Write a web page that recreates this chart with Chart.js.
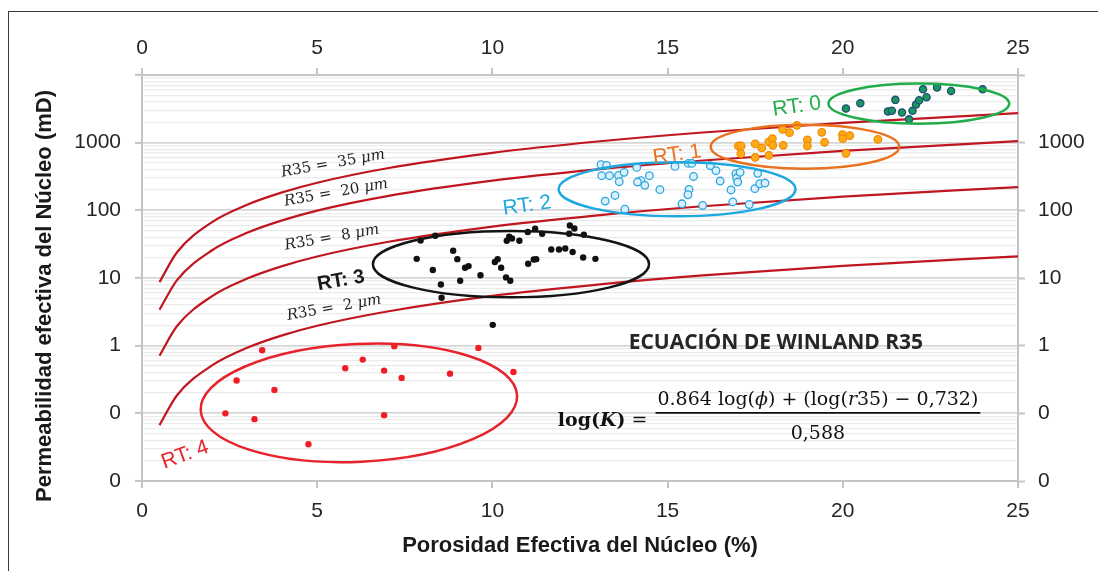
<!DOCTYPE html>
<html>
<head>
<meta charset="utf-8">
<script src="https://cdn.jsdelivr.net/npm/chart.js@4"></script>
<style>
  html, body { margin: 0; padding: 0; background: #fff; overflow: hidden; }
  #wrap { position: relative; width: 1098px; height: 571px; }
  #frame { position: absolute; left: 8px; top: 11px; width: 1200px; height: 700px; border: 1.5px solid #3a3a3a; pointer-events: none; }
</style>
</head>
<body>
<div id="wrap">
  <canvas id="chart"></canvas>
  <div id="frame"></div>
</div>
<script>
// Rock types: effective porosity (%) vs core permeability (mD)
const rt0Phi = [20.09, 20.50, 21.50, 21.29, 21.40, 21.69, 21.89, 21.99, 22.09, 22.18, 22.39, 22.29, 22.69, 23.09, 23.99];
const rt0K = [3190, 3810, 4290, 2900, 2970, 2780, 2210, 2970, 3650, 4230, 4680, 6140, 6520, 5820, 6140];

const rt1Phi = [17.02, 17.10, 17.09, 17.50, 17.69, 17.50, 17.89, 17.99, 18.00, 17.89, 18.30, 18.28, 18.48, 18.69, 18.99, 18.99, 19.40, 19.48, 19.99, 20.00, 20.20, 20.09, 21.00];
const rt1K = [893, 893, 687, 957, 835, 606, 1024, 1146, 912, 649, 912, 1574, 1406, 1803, 1096, 893, 1420, 1010, 1313, 1146, 1270, 695, 1119];

const rt2Phi = [13.10, 13.26, 13.12, 13.34, 13.60, 13.76, 13.62, 14.12, 14.24, 14.14, 14.35, 14.48, 13.50, 13.22, 13.78, 14.78, 15.21, 15.59, 15.69, 15.74, 15.61, 15.58, 15.41, 16.00, 16.22, 16.38, 16.50, 16.81, 16.86, 16.95, 16.97, 17.07, 17.00, 17.33, 17.49, 17.57, 17.63, 17.78];
const rt2K = [473, 461, 325, 325, 328, 364, 265, 431, 274, 262, 234, 325, 166, 137, 104, 202, 446, 494, 494, 317, 204, 170, 125, 118, 457, 385, 271, 200, 133, 348, 300, 364, 262, 122, 209, 352, 247, 253];

const rt3Phi = [7.84, 7.95, 8.37, 8.30, 8.53, 8.55, 8.88, 9.00, 9.08, 9.22, 9.32, 9.66, 10.01, 10.07, 10.15, 10.25, 10.39, 10.51, 10.41, 10.48, 10.56, 10.77, 11.02, 11.18, 11.25, 11.01, 11.22, 11.42, 11.68, 11.90, 12.08, 12.29, 12.59, 12.94, 12.19, 12.21, 12.34, 12.61];
const rt3K = [19.2, 35.9, 42.1, 13.1, 8.0, 5.1, 25.3, 19.0, 9.1, 14.2, 15.0, 11.0, 2.03, 17.2, 19.0, 14.2, 10.2, 9.1, 35.5, 40.7, 38.4, 35.5, 16.2, 18.8, 19.0, 47.8, 53.4, 45.1, 26.4, 26.4, 27.3, 24.2, 20.1, 19.2, 45.1, 59.8, 54.0, 43.6];

const rt4Phi = [2.38, 2.70, 3.21, 3.43, 3.78, 4.75, 5.80, 6.30, 6.91, 6.91, 7.20, 7.41, 8.79, 9.60, 10.60];
const rt4K = [0.100, 0.305, 0.082, 0.857, 0.222, 0.035, 0.464, 0.622, 0.428, 0.094, 0.984, 0.334, 0.386, 0.927, 0.409];

// Winland R35 iso-pore-throat curves
const curvePhi = [0.5, 1, 2, 3, 4, 5, 7, 10, 13, 16, 20, 25];
const k35 = [8.7, 24, 67, 121, 184, 256, 419, 708, 1040, 1412, 1962, 2725];
const k20 = [3.4, 9.3, 25.7, 46.6, 71, 99, 162, 274, 402, 545, 757, 1052];
const k8 = [0.71, 1.95, 5.4, 9.8, 15, 20.8, 34, 57.6, 84.5, 115, 159, 221];
const k2 = [0.067, 0.185, 0.51, 0.93, 1.42, 1.97, 3.2, 5.45, 8.0, 10.9, 15.1, 20.9];

const xTicks = [0, 5, 10, 15, 20, 25];
const yDecades = [0.01, 0.1, 1, 10, 100, 1000, 10000];

function pts(xs, ys) {
  return xs.map((v, i) => ({ x: v, y: ys[i] }));
}

// ellipses around each rock type (centre in data units, radii in % and decades)
const zones = [
  { phi: 22.17, k: 3776, dPhi: 2.58, dDec: 0.296, rot: 0, color: "#22ad4c" },
  { phi: 18.92, k: 873, dPhi: 2.69, dDec: 0.325, rot: 0, color: "#e8721f" },
  { phi: 15.27, k: 205, dPhi: 3.38, dDec: 0.40, rot: 0, color: "#1ea8e0" },
  { phi: 10.53, k: 16, dPhi: 3.94, dDec: 0.49, rot: 0, color: "#141414" },
  { phi: 6.19, k: 0.143, dPhi: 4.52, dDec: 0.87, rot: -2.7, color: "#e8222b" },
];

const SANS = '"Liberation Sans", Arial, sans-serif';
const SERIF = '"DejaVu Serif", serif';

const notes = [
  { runs: [["RT: 0", "21px " + SANS]], phi: 18.69, k: 3412, rot: -8, color: "#22ad4c" },
  { runs: [["RT: 1", "21px " + SANS]], phi: 15.27, k: 664, rot: -8, color: "#e8721f" },
  { runs: [["RT: 2", "21px " + SANS]], phi: 10.99, k: 117, rot: -8, color: "#1ea8e0" },
  { runs: [["RT: 3", "bold 20px " + SANS]], phi: 5.68, k: 9.1, rot: -10, color: "#1a1a1a" },
  { runs: [["RT: 4", "21px " + SANS]], phi: 1.23, k: 0.0243, rot: -20, color: "#e8222b" },
  { runs: [["R", "italic 15px " + SERIF], ["35 =  35 ", "15px " + SERIF], ["μm", "italic 15px " + SERIF]], phi: 5.45, k: 489, rot: -10, color: "#222" },
  { runs: [["R", "italic 15px " + SERIF], ["35 =  20 ", "15px " + SERIF], ["μm", "italic 15px " + SERIF]], phi: 5.54, k: 182, rot: -10, color: "#222" },
  { runs: [["R", "italic 15px " + SERIF], ["35 =  8 ", "15px " + SERIF], ["μm", "italic 15px " + SERIF]], phi: 5.42, k: 39.4, rot: -10, color: "#222" },
  { runs: [["R", "italic 15px " + SERIF], ["35 =  2 ", "15px " + SERIF], ["μm", "italic 15px " + SERIF]], phi: 5.48, k: 3.62, rot: -10, color: "#222" },
  { runs: [["ECUACIÓN DE WINLAND R35", 'bold 21px "Open Sans", ' + SANS]], phi: 18.09, k: 1.10, rot: 0, color: "#262626" },
];

function drawRuns(ctx, runs, px, py, rot, color, align) {
  let w = 0;
  runs.forEach(r => { ctx.font = r[1]; w += ctx.measureText(r[0]).width; });
  ctx.save();
  ctx.translate(px, py);
  ctx.rotate(rot * Math.PI / 180);
  ctx.fillStyle = color;
  ctx.textBaseline = "middle";
  ctx.textAlign = "left";
  let cx = align === "right" ? -w : (align === "left" ? 0 : -w / 2);
  runs.forEach(r => {
    ctx.font = r[1];
    ctx.fillText(r[0], cx, 0);
    cx += ctx.measureText(r[0]).width;
  });
  ctx.restore();
  return w;
}

const annot = {
  id: "annot",
  afterDatasetsDraw(chart) {
    const ctx = chart.ctx;
    const x = chart.scales.x, y = chart.scales.y;
    ctx.save();
    zones.forEach(z => {
      const cx = x.getPixelForValue(z.phi), cy = y.getPixelForValue(z.k);
      const rx = x.getPixelForValue(z.phi + z.dPhi) - cx;
      const ry = cy - y.getPixelForValue(z.k * Math.pow(10, z.dDec));
      ctx.beginPath();
      ctx.ellipse(cx, cy, rx, ry, z.rot * Math.PI / 180, 0, 2 * Math.PI);
      ctx.strokeStyle = z.color;
      ctx.lineWidth = 2.5;
      ctx.stroke();
    });
    notes.forEach(n => {
      drawRuns(ctx, n.runs, x.getPixelForValue(n.phi), y.getPixelForValue(n.k), n.rot, n.color, "center");
    });

    // Winland equation, fraction bar centred at (19.29 %, 0.1014 mD)
    const fx = x.getPixelForValue(19.29), fy = y.getPixelForValue(0.1014);
    const F = "19px " + SERIF, FI = "italic 19px " + SERIF;
    const numer = [["0.864 log(", F], ["ϕ", FI], [") + (log(", F], ["r", FI], ["35) − 0,732)", F]];
    const nw = drawRuns(ctx, numer, fx, fy - 13, 0, "#111", "center");
    drawRuns(ctx, [["0,588", F]], fx, fy + 21, 0, "#111", "center");
    ctx.beginPath();
    ctx.moveTo(fx - nw / 2 - 2, fy);
    ctx.lineTo(fx + nw / 2 + 2, fy);
    ctx.strokeStyle = "#111";
    ctx.lineWidth = 1.6;
    ctx.stroke();
    const B = "bold 19px " + SERIF, BI = "bold italic 19px " + SERIF;
    drawRuns(ctx, [["log(", B], ["K", BI], [")", B], [" = ", "19px " + SERIF]], fx - nw / 2 - 4, fy + 8, 0, "#111", "right");

    // vertical axis title
    ctx.save();
    ctx.translate(45, 296);
    ctx.rotate(-Math.PI / 2);
    ctx.font = "bold 22px " + SANS;
    ctx.fillStyle = "#1a1a1a";
    ctx.textAlign = "center";
    ctx.textBaseline = "middle";
    ctx.fillText("Permeabilidad efectiva del Núcleo (mD)", 0, 0);
    ctx.restore();
    ctx.restore();
  }
};

function curve(ys, label) {
  return {
    label: label,
    data: pts(curvePhi, ys),
    showLine: true,
    borderColor: "#c0161f",
    borderWidth: 2.2,
    pointRadius: 0,
    cubicInterpolationMode: "monotone",
    fill: false,
  };
}

function dots(xs, ys, bg, border, r, bw) {
  return {
    data: pts(xs, ys),
    backgroundColor: bg,
    borderColor: border,
    borderWidth: bw,
    pointRadius: r,
    pointHoverRadius: r,
    showLine: false,
  };
}

function logTicks(scale) {
  const t = [];
  for (let e = -2; e <= 3; e++) {
    for (let m = 1; m <= 9; m++) t.push({ value: m * Math.pow(10, e) });
  }
  t.push({ value: 10000 });
  scale.ticks = t;
}

function isDecade(v) {
  return yDecades.some(d => Math.abs(v - d) / d < 1e-6);
}

function decadeLabel(v) {
  if (!isDecade(v) || v >= 10000) return "";
  return v < 1 ? "0" : String(Math.round(v));
}

const tickFont = { family: SANS, size: 21 };
const titleFont = { family: SANS, size: 22, weight: "bold" };
const axisGrey = "#c4c4c4";

function xAxis(pos, extra) {
  return Object.assign({
    type: "linear",
    position: pos,
    min: 0,
    max: 25,
    afterBuildTicks: s => { s.ticks = xTicks.map(v => ({ value: v })); },
    ticks: { font: tickFont, color: "#262626", padding: pos === "top" ? 7 : 11, autoSkip: false, maxRotation: 0 },
    grid: { drawOnChartArea: false, drawTicks: true, tickLength: 7, color: axisGrey, lineWidth: 2 },
    border: { display: true, color: axisGrey, width: 2 },
  }, extra);
}

function yAxis(pos, extra) {
  return Object.assign({
    type: "logarithmic",
    position: pos,
    min: 0.01,
    max: 10000,
    afterBuildTicks: logTicks,
    ticks: { font: tickFont, color: "#262626", padding: 14, autoSkip: false, callback: v => decadeLabel(v) },
    grid: {
      drawTicks: true,
      tickLength: 7,
      color: c => (isDecade(c.tick.value) ? "#d6d6d6" : "#ebebeb"),
      lineWidth: c => (isDecade(c.tick.value) ? 1.8 : 1.3),
      tickColor: c => (isDecade(c.tick.value) ? axisGrey : "rgba(0,0,0,0)"),
      tickWidth: 2,
    },
    border: { display: true, color: axisGrey, width: 2 },
  }, extra);
}

document.addEventListener("DOMContentLoaded", function () {
  const canvas = document.getElementById("chart");
  canvas.parentNode.style.width = "1098px";
  canvas.parentNode.style.height = "571px";

  new Chart(canvas, {
    type: "scatter",
    data: {
      datasets: [
        dots(rt0Phi, rt0K, "#19985a", "#1f4e79", 3.6, 1.3),
        dots(rt1Phi, rt1K, "#ffab19", "#f08a00", 3.8, 1.2),
        dots(rt2Phi, rt2K, "#dbf0fb", "#2aa7df", 3.8, 1.3),
        dots(rt3Phi, rt3K, "#111111", "#111111", 3.2, 0),
        dots(rt4Phi, rt4K, "#ee1d26", "#ee1d26", 3.2, 0),
        curve(k35, "R35 = 35 um"),
        curve(k20, "R35 = 20 um"),
        curve(k8, "R35 = 8 um"),
        curve(k2, "R35 = 2 um"),
      ],
    },
    options: {
      responsive: true,
      maintainAspectRatio: false,
      animation: false,
      layout: { padding: 0 },
      plugins: { legend: { display: false }, tooltip: { enabled: false } },
      scales: {
        x: xAxis("bottom", {
          title: { display: true, text: "Porosidad Efectiva del Núcleo (%)", font: titleFont, color: "#1a1a1a", padding: { top: 0, bottom: 12 } },
          afterFit: s => { s.height = 90; },
        }),
        x2: xAxis("top", { afterFit: s => { s.height = 75; } }),
        y: yAxis("left", {
          afterFit: s => { s.width = 142; },
        }),
        y2: yAxis("right", {
          grid: {
            drawOnChartArea: false,
            drawTicks: true,
            tickLength: 7,
            tickColor: c => (isDecade(c.tick.value) ? axisGrey : "rgba(0,0,0,0)"),
            tickWidth: 2,
          },
          ticks: { font: tickFont, color: "#262626", padding: 13, autoSkip: false, callback: v => decadeLabel(v) },
          afterFit: s => { s.width = 80; },
        }),
      },
    },
    plugins: [annot],
  });
});
</script>
</body>
</html>
